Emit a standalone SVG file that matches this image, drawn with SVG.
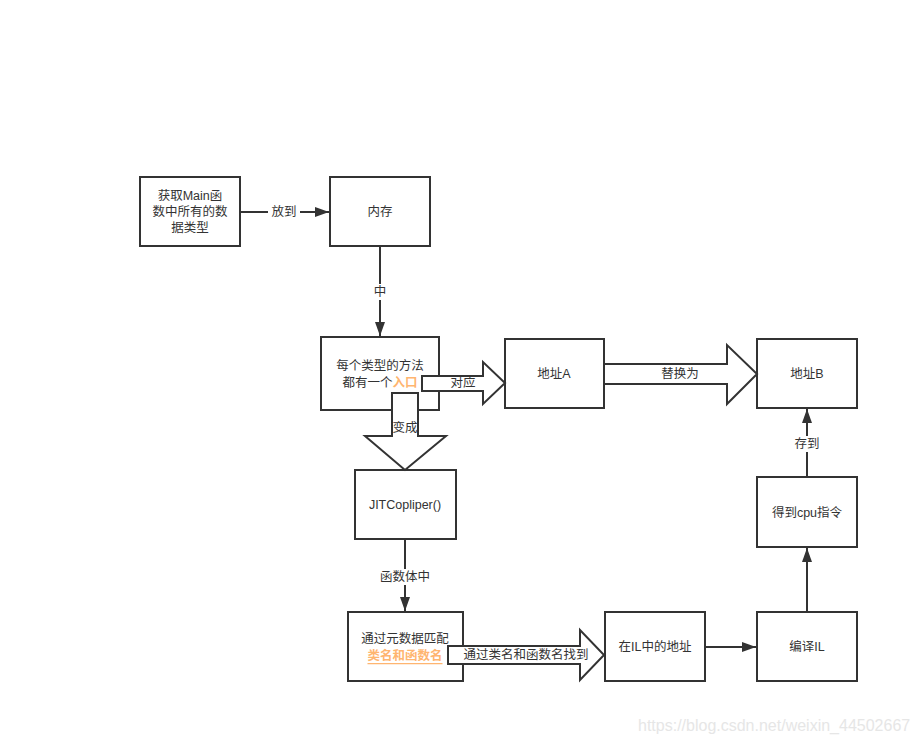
<svg xmlns="http://www.w3.org/2000/svg" width="919" height="744" viewBox="0 0 919 744">
<defs>
<marker id="ah" markerWidth="14" markerHeight="10" refX="14" refY="5" orient="auto" markerUnits="userSpaceOnUse">
<path d="M0,0 L14,5 L0,10 Z" fill="#333"/>
</marker>
<style>
.box{fill:#fff;stroke:#333;stroke-width:2}
.t{font-family:"Liberation Sans","Noto Sans CJK SC",sans-serif;font-size:12.5px;fill:#333;text-anchor:middle;dominant-baseline:central}
.ln{stroke:#333;stroke-width:2;fill:none}
.blk{fill:#fff;stroke:#333;stroke-width:2;stroke-linejoin:miter}
.lbl{fill:#fff}
.hl{fill:#FFB570;font-weight:bold}
</style>
</defs>
<rect width="919" height="744" fill="#fff"/>
<g id="connectors">
<line class="ln" x1="240" y1="212" x2="329" y2="212" marker-end="url(#ah)"/>
<rect class="lbl" x="268" y="204" width="32" height="16"/>
<text class="t" x="284" y="212">放到</text>
<line class="ln" x1="380" y1="246" x2="380" y2="336" marker-end="url(#ah)"/>
<rect class="lbl" x="373" y="284" width="14" height="16"/>
<text class="t" x="380" y="292">中</text>
<line class="ln" x1="405" y1="539" x2="405" y2="611" marker-end="url(#ah)"/>
<rect class="lbl" x="378" y="569" width="54" height="16"/>
<text class="t" x="405" y="577">函数体中</text>
<line class="ln" x1="705" y1="647" x2="756" y2="647" marker-end="url(#ah)"/>
<line class="ln" x1="807" y1="612" x2="807" y2="548" marker-end="url(#ah)"/>
<line class="ln" x1="807" y1="477" x2="807" y2="409" marker-end="url(#ah)"/>
<rect class="lbl" x="792" y="436" width="30" height="16"/>
<text class="t" x="807" y="444">存到</text>
</g>
<g id="n1"><rect class="box" x="140" y="177" width="100" height="69"/>
<text class="t" x="190" y="196">获取Main函</text>
<text class="t" x="190" y="212">数中所有的数</text>
<text class="t" x="190" y="228">据类型</text></g>
<g id="n2"><rect class="box" x="330" y="177" width="100" height="69"/>
<text class="t" x="380" y="212">内存</text></g>
<g id="n3"><rect class="box" x="321" y="337" width="118" height="73"/>
<text class="t" x="380" y="366">每个类型的方法</text>
<text class="t" x="380" y="383"><tspan>都有一个</tspan><tspan class="hl">入口</tspan></text></g>
<g id="n4"><rect class="box" x="505" y="339" width="99" height="69"/>
<text class="t" x="554" y="374">地址A</text></g>
<g id="n5"><rect class="box" x="757" y="339" width="100" height="69"/>
<text class="t" x="807" y="374">地址B</text></g>
<g id="n6"><rect class="box" x="355" y="470" width="101" height="69"/>
<text class="t" x="405" y="505">JITCopliper()</text></g>
<g id="n7"><rect class="box" x="348" y="612" width="115" height="69"/>
<text class="t" x="405" y="639">通过元数据匹配</text>
<text class="t hl" x="405" y="656" text-decoration="underline">类名和函数名</text></g>
<g id="n8"><rect class="box" x="605" y="612" width="100" height="69"/>
<text class="t" x="655" y="647">在IL中的地址</text></g>
<g id="n9"><rect class="box" x="757" y="612" width="100" height="69"/>
<text class="t" x="807" y="647">编译IL</text></g>
<g id="n10"><rect class="box" x="757" y="477" width="100" height="70"/>
<text class="t" x="807" y="513">得到cpu指令</text></g>
<g id="block-arrows">
<path class="blk" d="M422,376 L483,376 L483,362 L505,383 L483,404 L483,391 L422,391 Z"/>
<text class="t" x="463" y="383">对应</text>
<path class="blk" d="M392,393 L418,393 L418,436 L446,436 L405,470 L365,436 L392,436 Z"/>
<text class="t" x="405" y="428">变成</text>
<path class="blk" d="M604,364 L727,364 L727,345 L757,374 L727,404 L727,384 L604,384 Z"/>
<text class="t" x="680" y="374">替换为</text>
<path class="blk" d="M448,646 L580,646 L580,630 L604,655 L580,680 L580,664 L448,664 Z"/>
<text class="t" x="526" y="655">通过类名和函数名找到</text>
</g>
<text x="638" y="725" font-family="'Liberation Sans',sans-serif" font-size="16" fill="#e6e6e6" dominant-baseline="central">https://blog.csdn.net/weixin_44502667</text>
</svg>
